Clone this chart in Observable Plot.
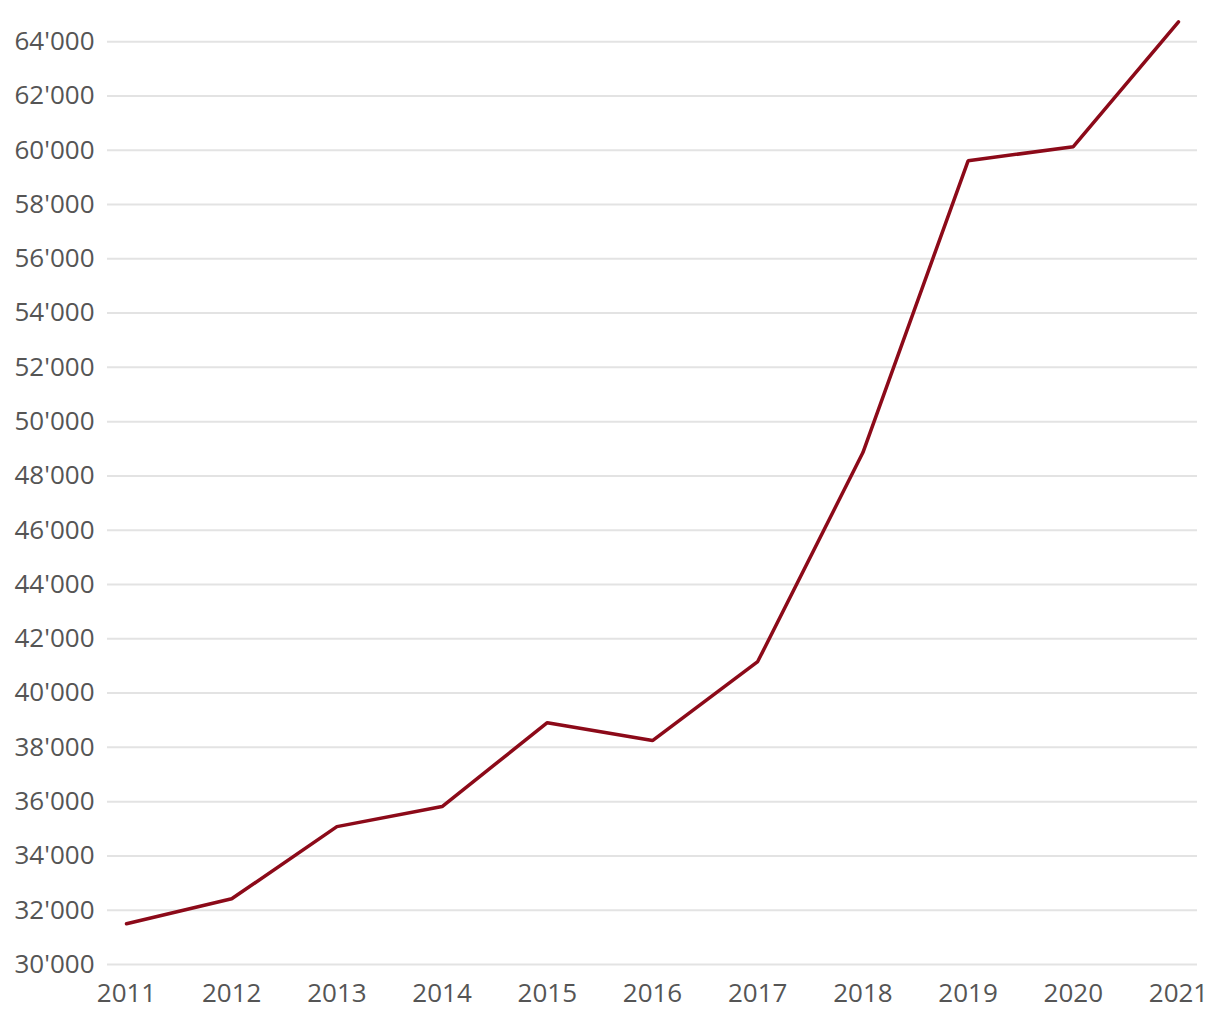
<!DOCTYPE html>
<html>
<head>
<meta charset="utf-8">
<script src="https://cdn.jsdelivr.net/npm/d3@7"></script>
<script src="https://cdn.jsdelivr.net/npm/@observablehq/plot@0.6"></script>
<style>
  html, body { margin: 0; padding: 0; background: #fff; }
  #chart svg { display: block; }
</style>
</head>
<body>
<div id="chart"></div>
<script>
const years = [2011, 2012, 2013, 2014, 2015, 2016, 2017, 2018, 2019, 2020, 2021];
const values = [31500, 32420, 35080, 35820, 38910, 38250, 41160, 48860, 59610, 60130, 64730];
const yTicks = [30000, 32000, 34000, 36000, 38000, 40000, 42000, 44000, 46000, 48000, 50000, 52000, 54000, 56000, 58000, 60000, 62000, 64000];

const data = years.map((year, i) => ({year, value: values[i]}));
const fmt = v => d3.format(",")(v).replace(/,/g, "'");

const chart = Plot.plot({
  width: 1220,
  height: 1020,
  marginLeft: 107,
  marginRight: 23,
  marginTop: 14,
  marginBottom: 56,
  insetLeft: 19,
  insetRight: 19,
  style: {fontFamily: "'Open Sans', sans-serif", fontSize: "26px", color: "#555", background: "#fff"},
  x: {domain: [2011, 2021]},
  y: {domain: [30000, 65000]},
  marks: [
    Plot.ruleY(yTicks, {stroke: "#e3e3e3", strokeWidth: 2}),
    Plot.axisY({ticks: yTicks, tickSize: 0, tickPadding: 13, tickFormat: fmt, label: null, fill: "#555"}),
    Plot.axisX({ticks: years, tickSize: 0, tickPadding: 19, tickFormat: d => String(d), label: null, fill: "#555"}),
    Plot.line(data, {x: "year", y: "value", stroke: "#8c0a19", strokeWidth: 3.5, strokeLinejoin: "miter"})
  ]
});
document.getElementById("chart").appendChild(chart);
</script>
</body>
</html>
